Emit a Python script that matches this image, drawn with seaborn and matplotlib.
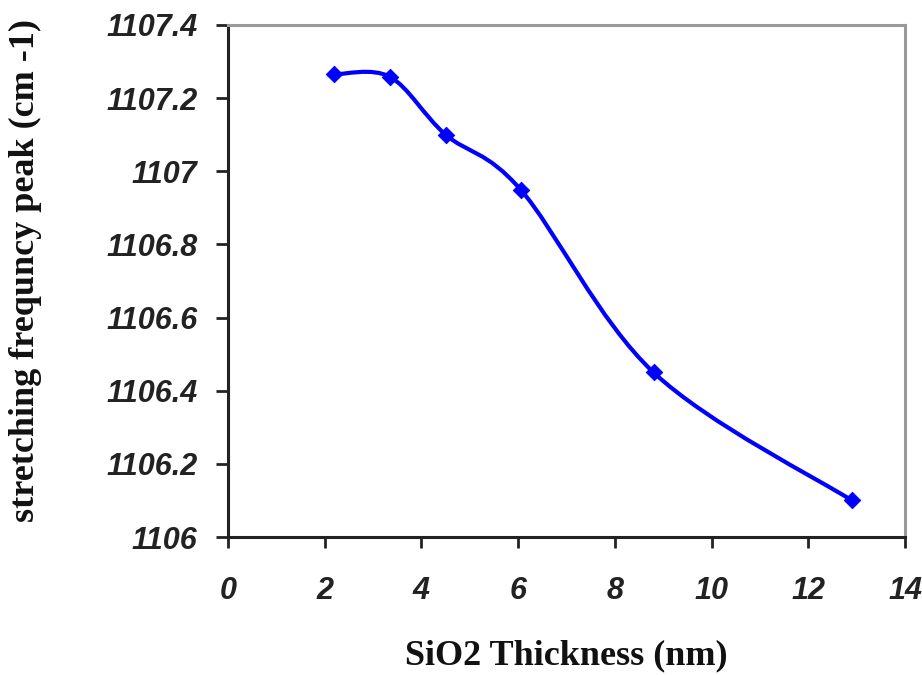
import numpy as np
import matplotlib
matplotlib.use("Agg")
import matplotlib.pyplot as plt
from matplotlib.path import Path
from matplotlib.patches import PathPatch
import seaborn as sns
import pandas as pd

# SiO2 thickness (nm) and Si-O-Si stretching peak position (cm-1)
thickness = [2.2, 3.35, 4.5, 6.05, 8.8, 12.9]
peak = [1107.265, 1107.258, 1107.10, 1106.95, 1106.45, 1106.10]

x_ticks = [0, 2, 4, 6, 8, 10, 12, 14]
y_ticks = [1106, 1106.2, 1106.4, 1106.6, 1106.8, 1107, 1107.2, 1107.4]
y_tick_labels = ["1106", "1106.2", "1106.4", "1106.6", "1106.8", "1107", "1107.2", "1107.4"]

df = pd.DataFrame({"thickness": thickness, "peak": peak})

sns.set_theme(style="white")
plt.rcParams["font.family"] = ["Liberation Sans", "DejaVu Sans"]

fig = plt.figure(figsize=(9.22, 6.75), dpi=100)
ax = fig.add_axes([0.2473, 0.2044, 0.7343, 0.7586])

# smoothed connecting line (cubic Bezier segments through the data points)
def smooth_path(xs, ys):
    n = len(xs)
    pts = np.column_stack([xs, ys])
    verts = [pts[0]]
    codes = [Path.MOVETO]
    for i in range(n - 1):
        p0 = pts[i - 1] if i > 0 else pts[i]
        p1 = pts[i]
        p2 = pts[i + 1]
        p3 = pts[i + 2] if i + 2 < n else pts[i + 1]
        c1 = p1 + (p2 - p0) / 6.0
        c2 = p2 - (p3 - p1) / 6.0
        verts += [c1, c2, p2]
        codes += [Path.CURVE4] * 3
    return Path(verts, codes)

ax.add_patch(PathPatch(smooth_path(df["thickness"].values, df["peak"].values),
                       facecolor="none", edgecolor="#0000ff", lw=3.0, zorder=2))

sns.scatterplot(data=df, x="thickness", y="peak", ax=ax, marker="D", s=70,
                color="#0000ff", edgecolor="#0000ff", zorder=3, legend=False)

ax.set_xlim(0, 14)
ax.set_ylim(1106, 1107.4)
ax.set_xticks(x_ticks)
ax.set_yticks(y_ticks)
ax.set_xticklabels([str(t) for t in x_ticks], fontsize=22, fontweight="bold",
                   fontstyle="italic", color="#222222")
ax.set_yticklabels(y_tick_labels, fontsize=22, fontweight="bold",
                   fontstyle="italic", color="#222222")

ax.tick_params(axis="x", direction="out", length=8, width=2, color="#222222", pad=20,
               bottom=True)
ax.tick_params(axis="y", direction="out", length=9, width=2, color="#222222", pad=13,
               left=True)

for side in ["left", "bottom"]:
    ax.spines[side].set_color("#222222")
    ax.spines[side].set_linewidth(2.2)
for side in ["top", "right"]:
    ax.spines[side].set_color("#999999")
    ax.spines[side].set_linewidth(2.2)

serif = ["Liberation Serif", "DejaVu Serif"]
ax.set_xlabel("SiO2 Thickness (nm)", fontsize=26, fontweight="bold",
              family=serif, labelpad=24, color="#111111")
ax.set_ylabel("stretching frequncy peak (cm -1)", fontsize=26, fontweight="bold",
              family=serif, color="#111111")
ax.yaxis.set_label_coords(-0.275, 0.52)

fig.savefig("out.png", dpi=100, facecolor="white")
